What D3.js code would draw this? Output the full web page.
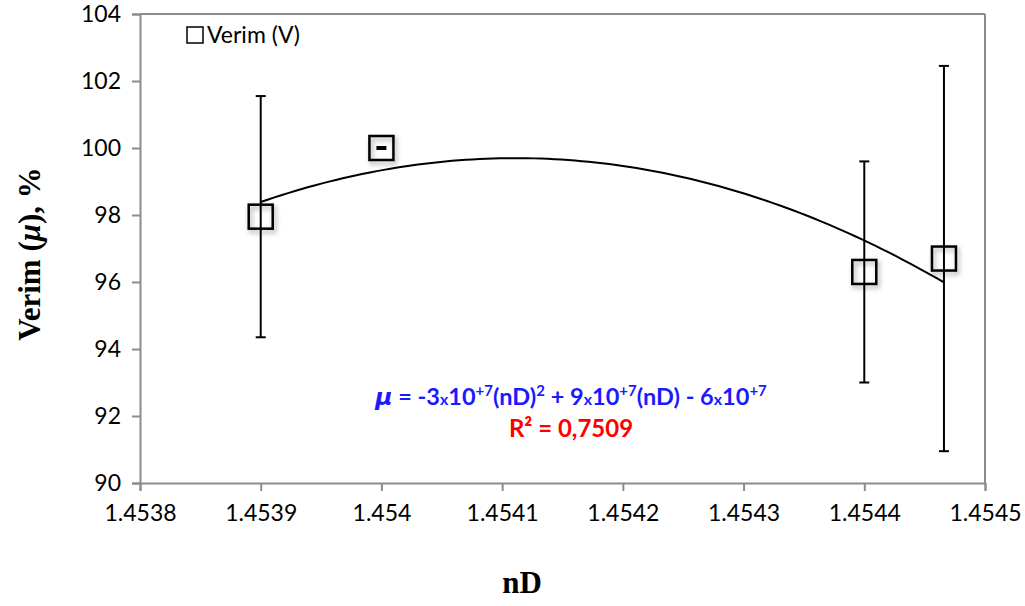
<!DOCTYPE html>
<html>
<head>
<meta charset="utf-8">
<script src="https://cdn.jsdelivr.net/npm/d3@7"></script>
<style>
  body { margin: 0; background: #fff; }
  svg text { font-family: Lato, "Open Sans", sans-serif; }
</style>
</head>
<body>
<svg id="chart" width="1025" height="606"></svg>
<script>
// data
var nD = [1.4539, 1.4540, 1.4544, 1.454466];
var verim = [97.95, 100.0, 96.3, 96.7];
var errs = [3.6, 0.03, 3.3, 5.75];
var xTicks = [1.4538, 1.4539, 1.454, 1.4541, 1.4542, 1.4543, 1.4544, 1.4545];
var yTicks = [90, 92, 94, 96, 98, 100, 102, 104];

var svg = d3.select('#chart');
var plot = {l: 140, r: 985, t: 14, b: 483};

var x = d3.scaleLinear().domain([1.4538, 1.4545]).range([plot.l, plot.r]);
var y = d3.scaleLinear().domain([90, 104]).range([plot.b, plot.t]);

var defs = svg.append('defs');
var f = defs.append('filter').attr('id', 'shadow').attr('x', '-50%').attr('y', '-50%').attr('width', '200%').attr('height', '200%');
f.append('feDropShadow').attr('dx', 2).attr('dy', 3).attr('stdDeviation', 2.5).attr('flood-color', '#000').attr('flood-opacity', 0.35);

// axes
var yAxis = svg.append('g')
    .attr('transform', 'translate(' + plot.l + ',0)')
    .call(d3.axisLeft(y).tickValues(yTicks).tickSize(8).tickPadding(11));
var xAxis = svg.append('g')
    .attr('transform', 'translate(0,' + plot.b + ')')
    .call(d3.axisBottom(x).tickValues(xTicks).tickSize(8).tickPadding(14)
        .tickFormat(function(d) { return String(+d.toFixed(4)); }));
[xAxis, yAxis].forEach(function(a) {
    a.selectAll('path, line').attr('stroke', '#8c8c8c').attr('stroke-width', 2);
    a.selectAll('text').style('font-size', '23px').attr('fill', '#000')
        .style('font-family', 'Lato, sans-serif');
});
// plot box (top and right)
svg.append('line').attr('x1', plot.l).attr('x2', plot.r).attr('y1', plot.t).attr('y2', plot.t)
    .attr('stroke', '#8c8c8c').attr('stroke-width', 2);
svg.append('line').attr('x1', plot.r).attr('x2', plot.r).attr('y1', plot.t).attr('y2', plot.b)
    .attr('stroke', '#8c8c8c').attr('stroke-width', 2);

// polynomial (order 2) trendline, least squares on the points
function fit2(xs, ys) {
    var x0 = 1.4541, s = 1e4;
    var u = xs.map(function(v) { return (v - x0) * s; });
    var S = [0, 0, 0, 0, 0], T = [0, 0, 0];
    u.forEach(function(v, i) {
        for (var k = 0; k < 5; k++) S[k] += Math.pow(v, k);
        for (var k = 0; k < 3; k++) T[k] += ys[i] * Math.pow(v, k);
    });
    var M = [[S[0], S[1], S[2], T[0]], [S[1], S[2], S[3], T[1]], [S[2], S[3], S[4], T[2]]];
    for (var i = 0; i < 3; i++) {
        for (var j = i + 1; j < 3; j++) {
            var r = M[j][i] / M[i][i];
            for (var k = i; k < 4; k++) M[j][k] -= r * M[i][k];
        }
    }
    var c = [0, 0, 0];
    for (var i = 2; i >= 0; i--) {
        var sum = M[i][3];
        for (var k = i + 1; k < 3; k++) sum -= M[i][k] * c[k];
        c[i] = sum / M[i][i];
    }
    return function(v) { var t = (v - x0) * s; return c[0] + c[1] * t + c[2] * t * t; };
}
var trend = fit2(nD, verim);
var xs = d3.range(0, 101).map(function(i) { return nD[0] + (nD[3] - nD[0]) * i / 100; });
svg.append('path')
    .attr('d', d3.line().x(function(d) { return x(d); }).y(function(d) { return y(trend(d)); })(xs))
    .attr('fill', 'none').attr('stroke', '#000').attr('stroke-width', 2);

// error bars
var pts = nD.map(function(d, i) { return {x: d, y: verim[i], e: errs[i]}; });
var eb = svg.append('g').selectAll('g').data(pts).enter().append('g');
eb.append('line')
    .attr('x1', function(d) { return x(d.x); }).attr('x2', function(d) { return x(d.x); })
    .attr('y1', function(d) { return y(d.y - d.e); }).attr('y2', function(d) { return y(d.y + d.e); })
    .attr('stroke', '#000').attr('stroke-width', 2);
[-1, 1].forEach(function(sg) {
    eb.append('line')
        .attr('x1', function(d) { return x(d.x) - 5; }).attr('x2', function(d) { return x(d.x) + 5; })
        .attr('y1', function(d) { return y(d.y + sg * d.e); }).attr('y2', function(d) { return y(d.y + sg * d.e); })
        .attr('stroke', '#000').attr('stroke-width', 2);
});

// markers
var ms = 24;
svg.append('g').selectAll('rect').data(pts).enter().append('rect')
    .attr('x', function(d) { return x(d.x) - ms / 2; })
    .attr('y', function(d) { return y(d.y) - ms / 2; })
    .attr('width', ms).attr('height', ms)
    .attr('fill', 'none').attr('stroke', '#000').attr('stroke-width', 2.5)
    .attr('filter', 'url(#shadow)');

// legend
svg.append('rect').attr('x', 187).attr('y', 27).attr('width', 16).attr('height', 16)
    .attr('fill', '#fff').attr('stroke', '#000').attr('stroke-width', 1.5);
svg.append('text').attr('x', 207).attr('y', 43).style('font-size', '23px').text('Verim (V)');

// equation
var eq = svg.append('text').attr('x', 571).attr('y', 405).attr('text-anchor', 'middle')
    .attr('fill', '#1a1aff').style('font-weight', 'bold').style('font-size', '23.5px');
eq.append('tspan').style('font-style', 'italic').style('font-family', '"DejaVu Sans", sans-serif').text('μ');
eq.append('tspan').text(' = -3');
eq.append('tspan').style('font-size', '16px').text('x');
eq.append('tspan').text('10');
eq.append('tspan').attr('dy', -9).style('font-size', '15px').text('+7');
eq.append('tspan').attr('dy', 9).text('(nD)');
eq.append('tspan').attr('dy', -9).style('font-size', '15px').text('2');
eq.append('tspan').attr('dy', 9).text(' + 9');
eq.append('tspan').style('font-size', '16px').text('x');
eq.append('tspan').text('10');
eq.append('tspan').attr('dy', -9).style('font-size', '15px').text('+7');
eq.append('tspan').attr('dy', 9).text('(nD) - 6');
eq.append('tspan').style('font-size', '16px').text('x');
eq.append('tspan').text('10');
eq.append('tspan').attr('dy', -9).style('font-size', '15px').text('+7');

svg.append('text').attr('x', 571).attr('y', 437).attr('text-anchor', 'middle')
    .attr('fill', '#ff0000').style('font-weight', 'bold').style('font-size', '24px')
    .text('R² = 0,7509');

// axis titles
var yt = svg.append('text').attr('transform', 'translate(40,254) rotate(-90)')
    .attr('text-anchor', 'middle').style('font-family', '"Liberation Serif", serif')
    .style('font-weight', 'bold').style('font-size', '31px');
yt.append('tspan').text('Verim (');
yt.append('tspan').style('font-style', 'italic').text('μ');
yt.append('tspan').text('), %');

svg.append('text').attr('x', 522).attr('y', 593).attr('text-anchor', 'middle')
    .style('font-family', '"Liberation Serif", serif').style('font-weight', 'bold').style('font-size', '31px')
    .text('nD');
</script>
</body>
</html>
